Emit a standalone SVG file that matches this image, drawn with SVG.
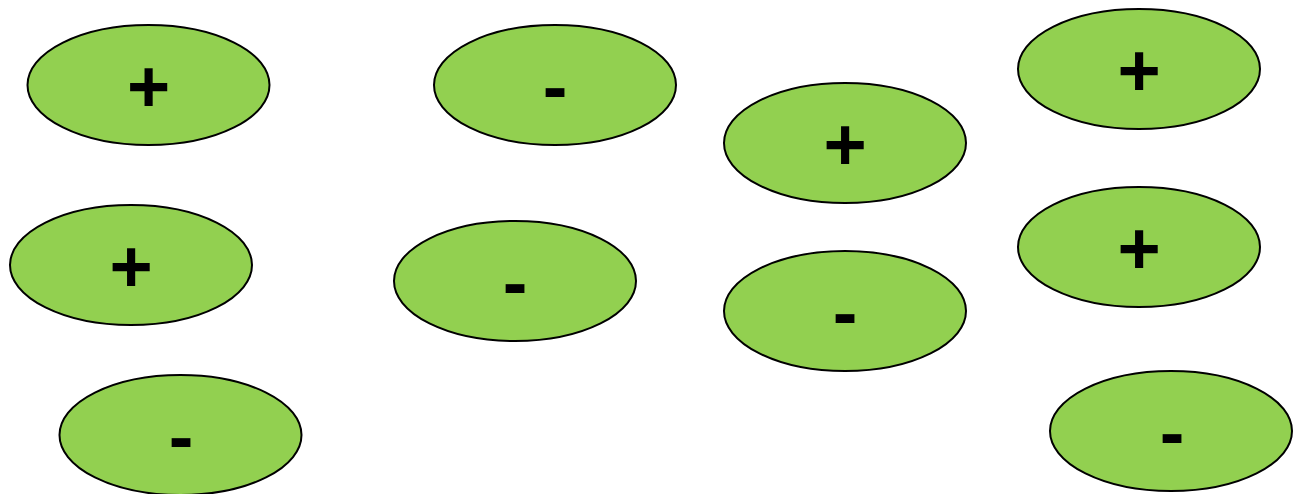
<svg xmlns="http://www.w3.org/2000/svg" width="1302" height="494" viewBox="0 0 1302 494">
<style>
.n{fill:#92d050;stroke:#000;stroke-width:2}
.t{font-family:"Liberation Sans",Arial,sans-serif;font-weight:bold;font-size:74px;text-anchor:middle;fill:#000}
</style>
<rect width="1302" height="494" fill="#fff"/>
<g id="connectors"></g>
<g id="n1"><ellipse class="n" cx="148.5" cy="85" rx="121" ry="60"/><text class="t" x="148.5" y="112">+</text></g>
<g id="n2"><ellipse class="n" cx="555" cy="85" rx="121" ry="60"/><text class="t" x="555" y="112">-</text></g>
<g id="n3"><ellipse class="n" cx="845" cy="143" rx="121" ry="60"/><text class="t" x="845" y="170">+</text></g>
<g id="n4"><ellipse class="n" cx="1139" cy="69" rx="121" ry="60"/><text class="t" x="1139" y="96">+</text></g>
<g id="n5"><ellipse class="n" cx="131" cy="265" rx="121" ry="60"/><text class="t" x="131" y="292">+</text></g>
<g id="n6"><ellipse class="n" cx="515" cy="281" rx="121" ry="60"/><text class="t" x="515" y="308">-</text></g>
<g id="n7"><ellipse class="n" cx="845" cy="311" rx="121" ry="60"/><text class="t" x="845" y="338">-</text></g>
<g id="n8"><ellipse class="n" cx="1139" cy="247" rx="121" ry="60"/><text class="t" x="1139" y="274">+</text></g>
<g id="n9"><ellipse class="n" cx="180.5" cy="435" rx="121" ry="60"/><text class="t" x="181" y="462">-</text></g>
<g id="n10"><ellipse class="n" cx="1171" cy="431" rx="121" ry="60"/><text class="t" x="1172" y="458">-</text></g>
</svg>
